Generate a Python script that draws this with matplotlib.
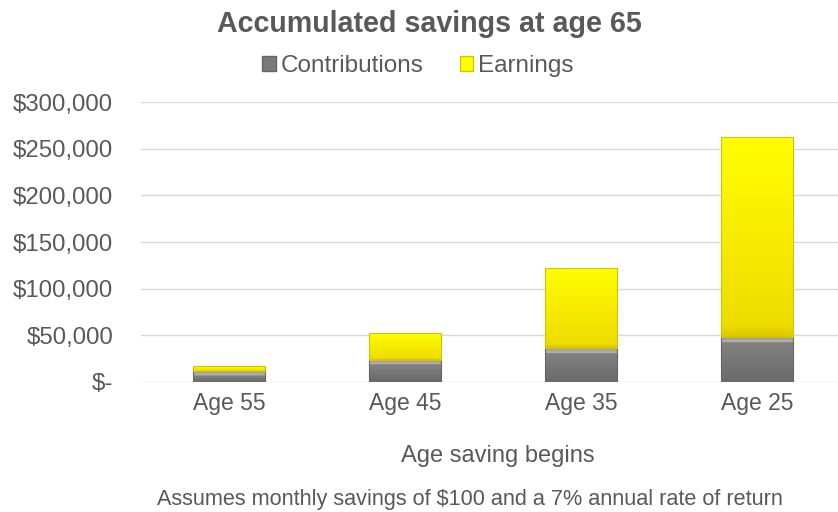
import matplotlib
matplotlib.use("Agg")
import matplotlib.pyplot as plt
from matplotlib.patches import Patch
from matplotlib.colors import LinearSegmentedColormap
from matplotlib.ticker import FuncFormatter
import numpy as np

categories = ["Age 55", "Age 45", "Age 35", "Age 25"]
contributions = [12000, 24000, 36000, 48000]
earnings = [5300, 28100, 86000, 214500]
yticks = [0, 50000, 100000, 150000, 200000, 250000, 300000]

plt.rcParams['font.family'] = ['Liberation Sans', 'DejaVu Sans']
txt = "#595959"

fig = plt.figure(figsize=(8.38, 5.12), dpi=100)
ax = fig.add_axes([141 / 838, 1 - 382 / 512, 1 - 141 / 838, 280 / 512])

x = np.arange(len(categories))
w = 0.41
gray = "#7a7a7a"
b1 = ax.bar(x, contributions, w, color="none", edgecolor="#666666", linewidth=0.8, zorder=4)
b2 = ax.bar(x, earnings, w, bottom=contributions, color="none", edgecolor="#d4c400", linewidth=0.8, zorder=4)

cm_gray = LinearSegmentedColormap.from_list("g", [(0, "#6a6a6a"), (0.85, "#828282"), (0.9, "#b5b5b5"), (1, "#9a9a9a")])
cm_yel = LinearSegmentedColormap.from_list("y", [(0, "#e0c400"), (0.06, "#eedd00"), (0.5, "#f7ec00"), (1, "#ffff00")])


def fill_gradient(bars, cmap, px_strip=None):
    for p in bars:
        x0, y0 = p.get_x(), p.get_y()
        wd, ht = p.get_width(), p.get_height()
        grad = np.linspace(0, 1, 256).reshape(-1, 1)
        if px_strip is not None:
            hpx = ht / 300000 * 280
            frac = min(1.0, px_strip / max(hpx, 1e-6))
            pos = np.linspace(0, 1, 256)
            vals = np.where(pos > 1 - frac, 0.9 + 0.1 * (pos - (1 - frac)) / max(frac, 1e-6),
                            0.85 * pos / max(1 - frac, 1e-6))
            grad = vals.reshape(-1, 1)
        im = ax.imshow(grad, cmap=cmap, vmin=0, vmax=1, aspect="auto", origin="lower",
                       extent=(x0, x0 + wd, y0, y0 + ht), zorder=3, interpolation="bilinear")
        im.set_clip_path(p)


fill_gradient(b1, cm_gray, px_strip=5)
fill_gradient(b2, cm_yel)

ax.set_ylim(0, 300000)
ax.set_xlim(-0.5, 3.46)
ax.set_yticks(yticks)
ax.yaxis.set_major_formatter(FuncFormatter(lambda v, p: "$-" if v == 0 else f"${v:,.0f}"))
ax.set_xticks(x)
ax.set_xticklabels(categories)
ax.grid(axis="y", color="#d9d9d9", linewidth=1, zorder=0)
for s in ax.spines.values():
    s.set_visible(False)
ax.tick_params(length=0, colors=txt)
ax.tick_params(axis="y", pad=20, labelsize=17.3)
ax.tick_params(axis="x", pad=7, labelsize=16.5)

fig.text(498 / 838, 1 - 456 / 512, "Age saving begins", ha="center", va="center", fontsize=17, color=txt)
fig.text(429 / 838, 1 - 24 / 512, "Accumulated savings at age 65", ha="center", va="center",
         fontsize=20.6, fontweight="bold", color=txt)
handles = [Patch(facecolor=gray, edgecolor="#666666"), Patch(facecolor="#ffff00", edgecolor="#d4c400")]
fig.legend(handles, ["Contributions", "Earnings"], loc="center", bbox_to_anchor=(418 / 838, 1 - 66 / 512),
           ncol=2, frameon=False, fontsize=17.5, labelcolor=txt, handlelength=0.55, handleheight=0.55,
           handletextpad=0.2, columnspacing=1.5, borderpad=0)
fig.text(470 / 838, 1 - 500 / 512, "Assumes monthly savings of $100 and a 7% annual rate of return",
         ha="center", va="center", fontsize=15.6, color=txt)

fig.savefig("out.png", dpi=100)
